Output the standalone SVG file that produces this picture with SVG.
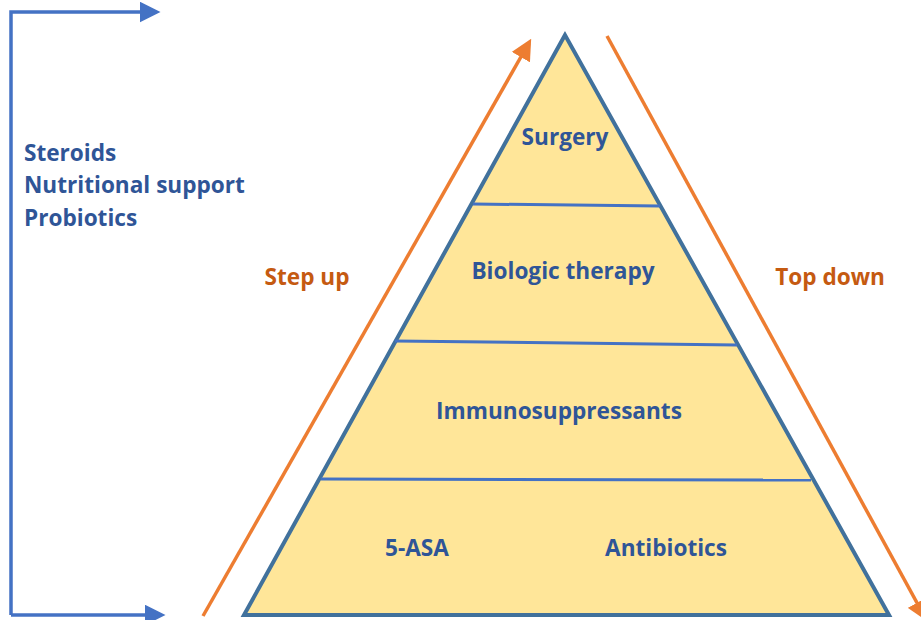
<svg xmlns="http://www.w3.org/2000/svg" width="921" height="620" viewBox="0 0 921 620">
  <style>
    .lbl { font-family: "Open Sans", "Liberation Sans", Arial, sans-serif; font-weight: bold; font-size: 22.6px; fill: #2F5597; }
    .side { font-family: "Open Sans", "Liberation Sans", Arial, sans-serif; font-weight: bold; font-size: 22.6px; fill: #C55A11; text-anchor: middle; }
    .tier { stroke: #4472C4; stroke-width: 3; fill: none; }
    .blue { stroke: #4472C4; stroke-width: 3.5; fill: none; }
    .orange { stroke: #ED7D31; stroke-width: 3.5; fill: none; }
  </style>
  <defs>
    <marker id="headBlue" markerWidth="6" markerHeight="6" refX="3" refY="3" orient="auto" markerUnits="strokeWidth">
      <path d="M0,0 L6,3 L0,6 Z" fill="#4472C4"/>
    </marker>
    <marker id="headOrange" markerWidth="6" markerHeight="6" refX="3" refY="3" orient="auto" markerUnits="strokeWidth">
      <path d="M0,0 L6,3 L0,6 Z" fill="#ED7D31"/>
    </marker>
  </defs>

  <rect width="921" height="620" fill="#FFFFFF"/>

  <!-- connectors -->
  <g id="connectors">
    <path class="blue" d="M11,615 L11,12 L150,12" marker-end="url(#headBlue)"/>
    <path class="blue" d="M11,615 L155,615" marker-end="url(#headBlue)"/>
    <line class="orange" x1="203" y1="616" x2="526" y2="48" marker-end="url(#headOrange)"/>
    <line class="orange" x1="607" y1="36" x2="922" y2="612" marker-end="url(#headOrange)"/>
  </g>

  <!-- pyramid -->
  <g id="pyramid">
    <polygon points="565,35 244,615 889,615" fill="#FFE699" stroke="#41719C" stroke-width="4" stroke-linejoin="miter"/>
    <line class="tier" x1="473" y1="204" x2="660" y2="206"/>
    <line class="tier" x1="395" y1="341" x2="737" y2="345"/>
    <line class="tier" x1="321" y1="479" x2="811" y2="480"/>
  </g>

  <g id="surgery"><text class="lbl" x="565" y="145" text-anchor="middle">Surgery</text></g>
  <g id="biologic"><text class="lbl" x="563" y="279" text-anchor="middle">Biologic therapy</text></g>
  <g id="immuno"><text class="lbl" x="559" y="419" text-anchor="middle">Immunosuppressants</text></g>
  <g id="asa"><text class="lbl" x="417" y="556" text-anchor="middle">5-ASA</text></g>
  <g id="antibiotics"><text class="lbl" x="666" y="556" text-anchor="middle">Antibiotics</text></g>

  <g id="step-up"><text class="side" x="307" y="285">Step up</text></g>
  <g id="top-down"><text class="side" x="830" y="285">Top down</text></g>

  <g id="adjuncts">
    <text class="lbl" x="24" y="161">Steroids</text>
    <text class="lbl" x="24" y="193">Nutritional support</text>
    <text class="lbl" x="24" y="226">Probiotics</text>
  </g>
</svg>
